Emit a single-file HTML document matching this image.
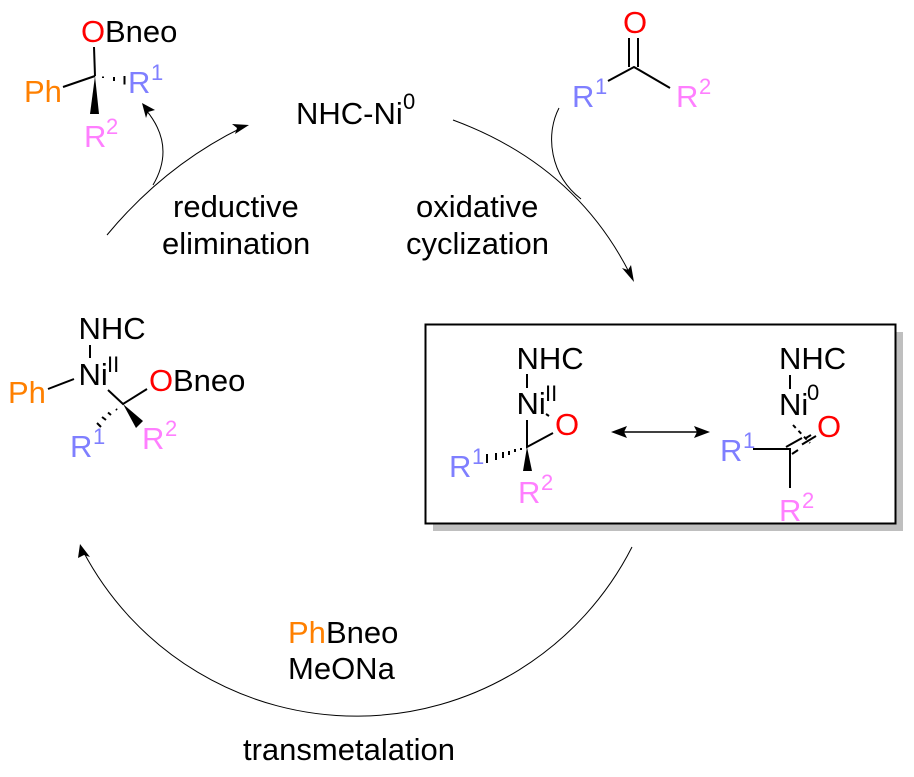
<!DOCTYPE html>
<html><head><meta charset="utf-8">
<style>
html,body{margin:0;padding:0;background:#fff;width:914px;height:777px;overflow:hidden}
svg{display:block}
text{font-family:"Liberation Sans",Arial,sans-serif;font-size:31px;fill:#000}
.s{font-size:22px}
.o{fill:#ff0000}.p{fill:#ff8000}.a{fill:#7f7fff}.b{fill:#ff7fff}
.l{stroke:#000;stroke-width:2;fill:none}
.t{stroke:#000;stroke-width:1;fill:none}
</style></head><body>
<svg width="914" height="777" viewBox="0 0 914 777" xmlns="http://www.w3.org/2000/svg">
<!-- top left product -->
<text x="81" y="42" class="o">O</text><text x="105" y="42">Bneo</text>
<text x="24" y="102" class="p">Ph</text>
<text x="128" y="93" class="a">R</text><text x="151" y="80" class="s a">1</text>
<text x="84" y="147" class="b">R</text><text x="106" y="134" class="s b">2</text>
<path class="l" d="M94 47L95 76M63 87L95 76"/>
<path d="M95 76L90 114L99 114Z" fill="#000"/>
<path class="l" d="M103 76.500V78M114 77V81M124.500 76V84.500"/>
<path class="t" d="M153 185Q176 146 146 110"/>
<path d="M142 103L155 110L148 112L146 118Z" fill="#000"/>
<path class="t" d="M107 235Q165 165 243 127"/>
<path d="M249 125L235 134L237 128L232 124Z" fill="#000"/>
<!-- centre top -->
<text x="296" y="124">NHC-Ni</text><text x="403" y="109" class="s">0</text>
<text x="173" y="217">reductive</text>
<text x="162" y="254">elimination</text>
<text x="416" y="217">oxidative</text>
<text x="406" y="254">cyclization</text>
<!-- ketone -->
<text x="623" y="33" class="o">O</text>
<text x="572" y="107" class="a">R</text><text x="595" y="94" class="s a">1</text>
<text x="676" y="107" class="b">R</text><text x="699" y="94" class="s b">2</text>
<path class="l" d="M629 38V67M638 38V67M608 81L634 67L670 88"/>
<path class="t" d="M453 120Q575 165 630 274"/>
<path d="M634 282L622 268L628 270L631 265Z" fill="#000"/>
<path class="t" d="M559 108C545 135 550 175 581 199"/>
<!-- left intermediate -->
<text x="78.500" y="339">NHC</text>
<text x="78.500" y="385">Ni</text><text x="107" y="372" class="s">II</text>
<text x="8" y="403" class="p">Ph</text>
<text x="149" y="391" class="o">O</text><text x="173" y="391">Bneo</text>
<text x="70" y="457" class="a">R</text><text x="93" y="444" class="s a">1</text>
<text x="142" y="449" class="b">R</text><text x="165" y="436" class="s b">2</text>
<path class="l" d="M90 345V358M48 389L74 379M108 390L123 404L147 389"/>
<path d="M123 404L136 428L143 421Z" fill="#000"/>
<path class="l" d="M117 410L116 409M111 415L108 412.500M106 420L102 417M101 427L97 423"/>
<!-- box -->
<rect x="433" y="332" width="470" height="199" fill="#bfbfbf"/>
<rect x="425.500" y="324.500" width="470" height="199" fill="#fff" stroke="#000" stroke-width="2"/>
<!-- box left -->
<text x="516.500" y="369">NHC</text>
<text x="516.500" y="414">Ni</text><text x="545" y="401" class="s">II</text>
<text x="555" y="435" class="o">O</text>
<text x="449" y="477" class="a">R</text><text x="472" y="464" class="s a">1</text>
<text x="518" y="503" class="b">R</text><text x="541" y="490" class="s b">2</text>
<path class="l" d="M527 374V388M527 420V447L553 433M546 414L549 416"/>
<path d="M527 447L523 471L532 471Z" fill="#000"/>
<path class="l" d="M521 448V450M515 449V452M509 451V455M503 452V458M496 453V460M487 454V463"/>
<!-- arrow double -->
<path class="l" style="stroke-width:1.500" d="M620 432H700"/>
<path d="M611 432L627 426L624 432L627 438Z M710 432L694 426L697 432L694 438Z" fill="#000"/>
<!-- box right -->
<text x="779" y="369">NHC</text>
<text x="779" y="415">Ni</text><text x="807" y="400" class="s">0</text>
<text x="817" y="437" class="o">O</text>
<text x="720" y="461" class="a">R</text><text x="743" y="448" class="s a">1</text>
<text x="779" y="521" class="b">R</text><text x="802" y="508" class="s b">2</text>
<path class="l" d="M790 375V389M753 449H790V488M786 447L802 438M792 454L798 450M802 444.500L816 436"/>
<path class="l" stroke-dasharray="4 4" d="M793 425L810 443"/>
<path class="l" d="M806 438L811 435"/>
<!-- bottom -->
<path class="t" d="M632 547A309 309 0 0 1 83 551"/>
<path d="M80 544L90 557L84 555L78 558Z" fill="#000"/>
<text x="288" y="643" class="p">Ph</text><text x="326" y="643">Bneo</text>
<text x="288" y="679">MeONa</text>
<text x="243" y="760">transmetalation</text>
</svg>
</body></html>
